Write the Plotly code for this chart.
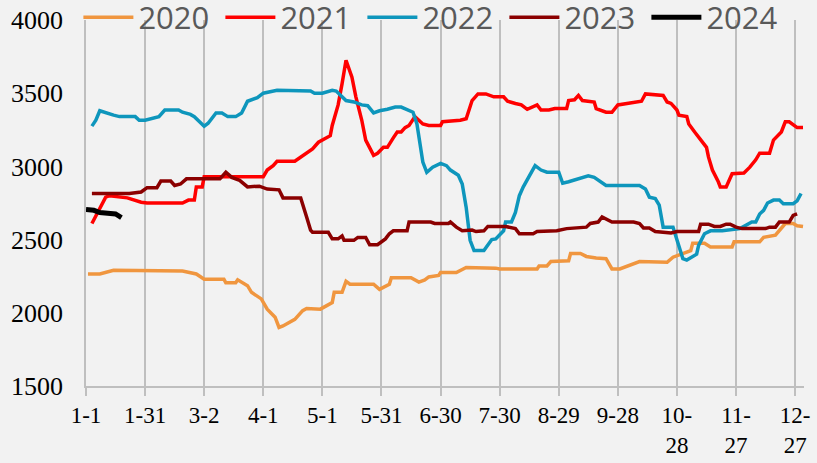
import plotly.graph_objects as go

# Day index (0 = Jan 1) and price values
tick_days = [0, 30, 60, 90, 120, 150, 180, 210, 240, 270, 300, 330, 360]
tick_labels = ["1-1", "1-31", "3-2", "4-1", "5-1", "5-31", "6-30", "7-30",
               "8-29", "9-28", "10-<br>28", "11-<br>27", "12-<br>27"]

d2020 = [1, 7, 14, 48, 49, 56, 60, 70, 71, 76, 77, 82, 84, 89, 92, 96, 98, 100, 103, 106,
         110, 112, 119, 125, 126, 130, 132, 134, 146, 149, 154, 155, 165, 169, 172, 174, 179, 180, 188, 191,
         193, 208, 210, 229, 230, 234, 236, 245, 246, 251, 254, 259, 264, 267, 271, 281, 288, 291, 295, 298,
         305, 307, 308, 314, 317, 328, 329, 342, 344, 350, 355, 359, 361, 364]
v2020 = [2265, 2265, 2290, 2290, 2285, 2265, 2230, 2230, 2205, 2205, 2225, 2185, 2140, 2095, 2025, 1970, 1900, 1910, 1935, 1955,
         2015, 2030, 2025, 2070, 2140, 2140, 2215, 2195, 2195, 2160, 2195, 2240, 2240, 2210, 2225, 2245, 2255, 2275, 2275, 2300,
         2310, 2305, 2300, 2300, 2320, 2320, 2350, 2355, 2405, 2405, 2385, 2375, 2370, 2300, 2300, 2350, 2350, 2345, 2345, 2380,
         2420, 2425, 2475, 2475, 2450, 2450, 2485, 2485, 2515, 2530, 2610, 2610, 2595, 2590]

d2021 = [3, 10, 12, 21, 28, 31, 49, 52, 55, 56, 59, 60, 90, 92, 95, 97, 106, 109, 113, 115,
         118, 124, 125, 128, 130, 132, 135, 137, 140, 142, 146, 148, 151, 153, 156, 158, 160, 162, 164, 167,
         171, 174, 180, 181, 190, 193, 196, 199, 203, 207, 212, 214, 218, 221, 224, 229, 231, 235, 238, 244,
         245, 248, 250, 252, 258, 259, 264, 267, 270, 274, 282, 284, 293, 295, 297, 300, 301, 305, 306, 309,
         312, 315, 316, 318, 321, 322, 325, 328, 334, 337, 340, 342, 347, 349, 353, 355, 357, 361, 364]
v2021 = [2610, 2790, 2800, 2785, 2755, 2750, 2750, 2770, 2770, 2860, 2860, 2930, 2930, 2975, 3005, 3035, 3035, 3065, 3100, 3120,
         3165, 3210, 3280, 3420, 3565, 3725, 3610, 3475, 3315, 3180, 3075, 3090, 3130, 3130, 3195, 3235, 3235, 3265, 3280, 3340,
         3290, 3280, 3280, 3305, 3315, 3325, 3450, 3495, 3495, 3475, 3475, 3445, 3430, 3420, 3390, 3420, 3385, 3385, 3395, 3395,
         3450, 3455, 3485, 3450, 3440, 3395, 3370, 3370, 3420, 3430, 3445, 3495, 3485, 3440, 3430, 3385, 3350, 3340, 3290, 3235,
         3180, 3130, 3065, 2975, 2895, 2860, 2860, 2950, 2955, 2995, 3045, 3090, 3090, 3180, 3235, 3305, 3305, 3265, 3265]

d2022 = [3, 5, 7, 10, 14, 17, 25, 27, 30, 37, 40, 47, 49, 53, 55, 60, 62, 66, 69, 72,
         76, 79, 82, 87, 90, 97, 114, 116, 120, 125, 127, 132, 136, 140, 143, 146, 149, 153, 157, 160,
         163, 166, 168, 170, 171, 173, 176, 180, 183, 185, 189, 191, 193, 195, 197, 202, 206, 208, 212, 213,
         216, 218, 220, 222, 226, 228, 231, 234, 240, 242, 245, 251, 255, 258, 264, 281, 284, 286, 289, 291,
         293, 298, 300, 303, 305, 310, 311, 314, 317, 323, 332, 335, 338, 340, 342, 344, 346, 349, 352, 354,
         359, 361, 363]
v2022 = [3275, 3315, 3380, 3365, 3350, 3340, 3340, 3315, 3315, 3340, 3385, 3385, 3370, 3355, 3340, 3275, 3295, 3365, 3365, 3340,
         3340, 3365, 3445, 3470, 3500, 3520, 3515, 3500, 3500, 3520, 3515, 3450, 3440, 3420, 3415, 3365, 3380, 3390, 3405, 3405,
         3385, 3370, 3290, 3130, 3030, 2960, 2995, 3020, 3005, 2975, 2940, 2880, 2720, 2495, 2425, 2425, 2500, 2505, 2560, 2620,
         2620, 2685, 2800, 2860, 2960, 3005, 2975, 2960, 2960, 2885, 2895, 2920, 2935, 2925, 2870, 2870, 2845, 2790, 2780, 2735,
         2585, 2585, 2495, 2370, 2360, 2400, 2460, 2540, 2560, 2560, 2575, 2595, 2620, 2620, 2675, 2700, 2750, 2770, 2770, 2745,
         2745, 2765, 2815]

d2023 = [3, 22, 28, 31, 36, 38, 43, 45, 48, 51, 68, 71, 74, 78, 82, 88, 92, 98, 100, 109,
         112, 114, 115, 123, 125, 128, 130, 131, 136, 138, 142, 144, 148, 152, 154, 156, 163, 164, 175, 177,
         184, 185, 188, 191, 196, 198, 202, 204, 213, 218, 220, 227, 229, 239, 244, 254, 256, 260, 262, 267,
         278, 281, 283, 286, 289, 294, 297, 300, 311, 312, 316, 319, 322, 325, 327, 330, 333, 345, 347, 350,
         352, 357, 359, 361]
v2023 = [2815, 2815, 2825, 2855, 2855, 2900, 2900, 2870, 2880, 2915, 2915, 2960, 2925, 2905, 2860, 2865, 2845, 2840, 2785, 2785,
         2655, 2565, 2550, 2550, 2505, 2505, 2525, 2495, 2495, 2515, 2515, 2465, 2465, 2505, 2540, 2560, 2560, 2620, 2620, 2610,
         2610, 2620, 2585, 2560, 2565, 2555, 2560, 2590, 2590, 2575, 2540, 2540, 2555, 2560, 2575, 2585, 2610, 2620, 2655, 2620,
         2620, 2610, 2580, 2580, 2555, 2545, 2545, 2555, 2555, 2605, 2605, 2590, 2590, 2605, 2605, 2585, 2575, 2575, 2585, 2585,
         2620, 2620, 2665, 2675]

d2024 = [0, 4, 7, 10, 11, 15, 16, 18]
v2024 = [2705, 2700, 2685, 2675, 2680, 2675, 2665, 2650]

series = [
    ("2020", d2020, v2020, "#F0963F", 3.5),
    ("2021", d2021, v2021, "#FF0000", 3.5),
    ("2022", d2022, v2022, "#0E96BC", 3.5),
    ("2023", d2023, v2023, "#8B0000", 3.5),
    ("2024", d2024, v2024, "#000000", 5),
]

fig = go.Figure()
for name, xs, ys, color, w in series:
    fig.add_trace(go.Scatter(x=xs, y=ys, mode="lines", name=name,
                             line=dict(color=color, width=w)))

grid = "#BFBFBF"
fig.update_layout(
    width=817, height=463,
    margin=dict(l=86, r=13, t=20, b=77, autoexpand=False),
    paper_bgcolor="#F2F2F2", plot_bgcolor="#F2F2F2",
    showlegend=True,
    legend=dict(orientation="h", x=-0.0106, xanchor="left", y=1.0065, yref="paper",
                yanchor="middle", bgcolor="rgba(0,0,0,0)",
                font=dict(family="Open Sans", size=31, color="#595959"),
                entrywidth=77, entrywidthmode="pixels", itemwidth=50,
                tracegroupgap=0),
    xaxis=dict(range=[0, 364.5], tickmode="array", tickvals=tick_days, ticktext=tick_labels,
               showgrid=True, gridcolor=grid, gridwidth=1.6,
               ticks="outside", ticklen=8, tickcolor=grid, tickwidth=1.6,
               showline=True, linecolor=grid, linewidth=1.6,
               zeroline=False,
               tickfont=dict(family="Liberation Serif", size=23, color="#000000")),
    yaxis=dict(range=[1500, 4000], tickmode="array",
               tickvals=[1500, 2000, 2500, 3000, 3500, 4000],
               showgrid=False, zeroline=False, showline=True, linecolor=grid, linewidth=1.6,
               ticks="", ticklabelstandoff=16,
               tickfont=dict(family="Liberation Serif", size=26, color="#000000")),
)

fig.write_html("out.html", config={"displayModeBar": False},
               post_script="document.body.style.margin='0';document.body.style.background='#F2F2F2';")
